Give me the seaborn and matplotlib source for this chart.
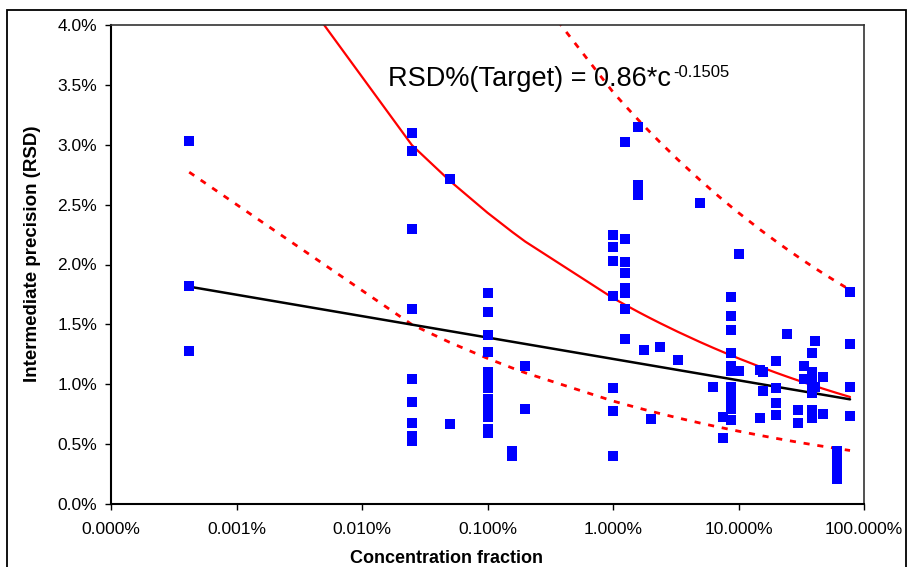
import numpy as np
import pandas as pd
import matplotlib
matplotlib.use("Agg")
import matplotlib.pyplot as plt
import matplotlib.ticker as mticker
from matplotlib.patches import Rectangle
import seaborn as sns

# concentration fraction (x) and intermediate precision RSD in % (y)
conc = [4.2e-6] * 3 + [2.5e-4] * 9 + [5e-4] * 2 + [1e-3] * 13 + [1.58e-3] * 2 + [2e-3] * 2 \
    + [0.01] * 7 + [0.0125] * 8 + [0.0159] * 4 + [0.0177, 0.02, 0.0237, 0.0328, 0.049, 0.063] \
    + [0.075] * 2 + [0.087] * 12 + [0.1] * 2 + [0.148] * 2 + [0.156] * 2 + [0.2] * 4 + [0.245] \
    + [0.30] * 2 + [0.333] * 2 + [0.383] * 7 + [0.407] * 2 + [0.469] * 2 + [0.605] * 9 + [0.774] * 4
rsd = [3.03, 1.82, 1.28,
       3.10, 2.95, 2.30, 1.63, 1.04, 0.85, 0.68, 0.57, 0.53,
       2.71, 0.67,
       1.76, 1.60, 1.41, 1.27, 1.10, 1.04, 0.97, 0.88, 0.84, 0.78, 0.73, 0.63, 0.59,
       0.44, 0.40,
       1.15, 0.79,
       2.25, 2.15, 2.03, 1.74, 0.97, 0.78, 0.40,
       3.02, 2.21, 2.02, 1.93, 1.80, 1.76, 1.63, 1.38,
       3.15, 2.66, 2.62, 2.58,
       1.29, 0.71, 1.31, 1.20, 2.51, 0.98,
       0.73, 0.55,
       1.73, 1.57, 1.45, 1.26, 1.15, 1.11, 0.98, 0.93, 0.88, 0.83, 0.79, 0.70,
       2.09, 1.11,
       1.12, 0.72,
       1.10, 0.94,
       1.19, 0.97, 0.84, 0.74,
       1.42,
       0.785, 0.68,
       1.15, 1.04,
       1.26, 1.10, 1.05, 0.98, 0.93, 0.785, 0.72,
       1.36, 0.98,
       1.06, 0.75,
       0.44, 0.41, 0.38, 0.35, 0.32, 0.29, 0.26, 0.23, 0.21,
       1.77, 1.34, 0.975, 0.735]

# black trend line end points
trend_x = [4.2e-6, 0.774]
trend_y = [1.815, 0.874]

# target function RSD% = 0.86 * c^-0.1505, with x2 and x0.5 limits
coef_a = 0.86
coef_b = -0.1505

df = pd.DataFrame({"c": conc, "rsd": rsd})
# limit curves are evaluated at the measured concentrations and joined point to point
cx = np.array(sorted(set(conc)))
target = pd.DataFrame({"c": cx, "mid": coef_a * cx ** coef_b})
target["hi"] = 2 * target["mid"]
target["lo"] = 0.5 * target["mid"]

sns.set_style("white")
plt.rcParams["font.family"] = ["Liberation Sans", "DejaVu Sans"]
plt.rcParams["text.color"] = "black"
plt.rcParams["axes.labelcolor"] = "black"
plt.rcParams["xtick.color"] = "black"
plt.rcParams["ytick.color"] = "black"

fig = plt.figure(figsize=(9.08, 5.67), dpi=100)
ax = fig.add_axes([111 / 908, 1 - 504 / 567, 753 / 908, 479 / 567])

red = "#FF0000"
dash = (0, (2.2, 2.8))
sns.lineplot(data=target, x="c", y="mid", ax=ax, color=red, lw=1.6, estimator=None, sort=False)
sns.lineplot(data=target, x="c", y="hi", ax=ax, color=red, lw=2.0, linestyle=dash,
             estimator=None, sort=False)
sns.lineplot(data=target, x="c", y="lo", ax=ax, color=red, lw=2.0, linestyle=dash,
             estimator=None, sort=False)
sns.lineplot(x=trend_x, y=trend_y, ax=ax, color="black", lw=1.8, estimator=None, sort=False)
sns.scatterplot(data=df, x="c", y="rsd", ax=ax, marker="s", s=48, color="#0000FF",
                linewidth=0, zorder=5)

ax.set_xscale("log")
ax.set_xlim(1e-6, 1)
ax.set_ylim(0, 4)
ax.xaxis.set_major_locator(mticker.FixedLocator([1e-6, 1e-5, 1e-4, 1e-3, 1e-2, 1e-1, 1]))
ax.xaxis.set_minor_locator(mticker.NullLocator())
ax.xaxis.set_major_formatter(mticker.FuncFormatter(lambda v, p: "{:.3f}%".format(v * 100)))
ax.yaxis.set_major_locator(mticker.MultipleLocator(0.5))
ax.yaxis.set_major_formatter(mticker.FuncFormatter(lambda v, p: "{:.1f}%".format(v)))
ax.tick_params(axis="both", which="major", direction="out", length=4, width=1,
               color="black", labelcolor="black", labelsize=12.5, pad=6, bottom=True, left=True)
ax.tick_params(axis="x", pad=9)

for side in ["left", "bottom"]:
    ax.spines[side].set_color("black")
    ax.spines[side].set_linewidth(1.5)
for side in ["top", "right"]:
    ax.spines[side].set_color("#333333")
    ax.spines[side].set_linewidth(1.2)

ax.set_xlabel("Concentration fraction", fontsize=13, fontweight="bold")
ax.xaxis.set_label_coords((447 - 111) / 753, -0.095)
ax.set_ylabel("Intermediate precision (RSD)", fontsize=13.5, fontweight="bold")
ax.yaxis.set_label_coords(-(111 - 41) / 753, (504 - 254) / 479)

main = ax.text(0.368, (504 - 86) / 479, "RSD%(Target) = 0.86*c", transform=ax.transAxes,
               fontsize=19.5, va="baseline", ha="left")
fig.canvas.draw()
bb = main.get_window_extent()
fig.text((bb.x1 + 2) / 908, 1 - 77 / 567, "-0.1505", fontsize=12, va="baseline", ha="left")

# outer chart frame
fig.add_artist(Rectangle((7 / 908, -0.05), 899 / 908, 1.05 - 10 / 567, transform=fig.transFigure,
                         fill=False, edgecolor="black", lw=1.3))

fig.savefig("out.png", dpi=100)
